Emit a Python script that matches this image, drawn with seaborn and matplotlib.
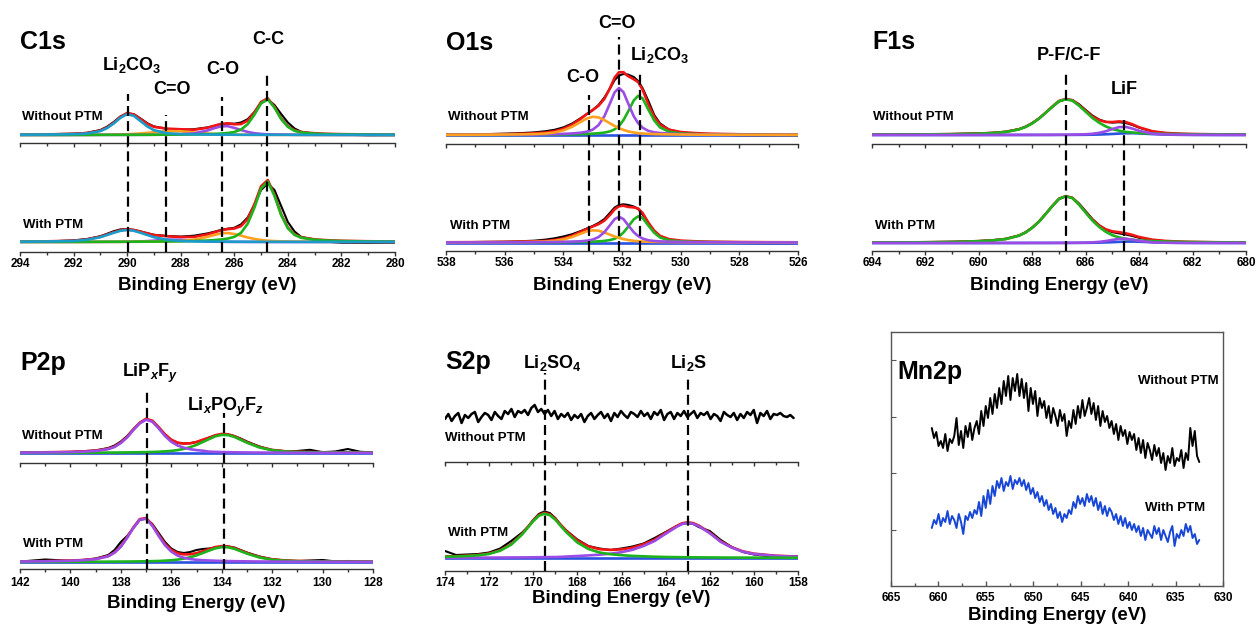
import numpy as np
import matplotlib
matplotlib.use("Agg")
import matplotlib.pyplot as plt
import seaborn as sns

sns.set_style("white")
plt.rcParams["font.family"] = ["Liberation Sans", "DejaVu Sans"]
plt.rcParams["font.weight"] = "bold"
plt.rcParams["mathtext.fontset"] = "custom"
plt.rcParams["mathtext.rm"] = "Liberation Sans:bold"
plt.rcParams["mathtext.it"] = "Liberation Sans:italic:bold"
plt.rcParams["mathtext.bf"] = "Liberation Sans:bold"
plt.rcParams["text.color"] = "black"
plt.rcParams["axes.labelcolor"] = "black"
plt.rcParams["xtick.color"] = "black"

# ---------------- C1s ----------------
c1s_energy = [294, 293, 292, 291.5, 291, 290.75, 290.5, 290.25, 290, 289.75, 289.5, 289.25, 289, 288.5, 288, 287.5,
              287, 286.75, 286.5, 286.25, 286, 285.75, 285.5, 285.25, 285, 284.75, 284.5, 284.25, 284, 283.75, 283.5,
              283, 282.5, 282, 281, 280]
c1s_wo_raw = [0.3, 0.8, 1.3, 2.2, 5.0, 8.3, 13.0, 18.6, 21.6, 20.8, 16.5, 11.8, 8.6, 6.0, 5.2, 5.8, 7.6, 9.0, 10.6,
              11.4, 11.3, 12.5, 15.8, 23.0, 32.0, 35.5, 30.0, 21.0, 12.5, 6.5, 3.2, 1.2, 0.6, 0.3, -0.3, -0.2]
c1s_wo_li2co3 = [0.2, 0.4, 0.8, 1.5, 3.9, 6.9, 11.5, 17.2, 20.9, 19.1, 13.9, 8.6, 4.8, 1.7, 0.9, 0.6, 0.4, 0.35, 0.3,
                 0.3, 0.25, 0.2, 0.2, 0.2, 0.2, 0.15, 0.15, 0.15, 0.15, 0.1, 0.1, 0.1, 0.1, 0.1, 0.1, 0.1]
c1s_wo_c_eq_o = [0.1, 0.1, 0.15, 0.2, 0.3, 0.3, 0.4, 0.6, 0.8, 1.1, 1.6, 2.1, 2.8, 3.9, 3.7, 2.5, 1.4, 1.0, 0.7, 0.5,
                 0.4, 0.3, 0.25, 0.2, 0.2, 0.15, 0.15, 0.15, 0.15, 0.1, 0.1, 0.1, 0.1, 0.1, 0.1, 0.1]
c1s_wo_c_o = [0.05, 0.05, 0.1, 0.1, 0.15, 0.15, 0.15, 0.15, 0.15, 0.15, 0.2, 0.2, 0.25, 0.4, 0.7, 1.6, 4.5, 6.8, 8.6,
              8.9, 7.1, 5.0, 3.1, 1.8, 1.1, 0.7, 0.5, 0.4, 0.35, 0.3, 0.25, 0.2, 0.15, 0.1, 0.1, 0.1]
c1s_wo_c_c = [0.05, 0.06, 0.08, 0.1, 0.12, 0.13, 0.14, 0.15, 0.17, 0.18, 0.2, 0.22, 0.25, 0.33, 0.43, 0.6, 0.9, 1.1,
              1.45, 2.0, 3.0, 5.4, 10.8, 20.2, 31.6, 35.7, 27.3, 15.9, 8.1, 4.2, 2.5, 1.3, 0.8, 0.55, 0.3, 0.19]
c1s_w_raw = [0.3, 0.5, 1.6, 3.0, 5.8, 8.2, 10.8, 12.6, 12.9, 12.0, 10.6, 8.8, 7.2, 6.0, 5.4, 6.3, 8.6, 10.2, 12.0, 13.3,
             14.2, 17.6, 24.5, 37.0, 52.0, 58.5, 52.0, 36.0, 20.0, 10.5, 5.0, 2.5, 0.2, -0.8, -1.0, -0.8]
c1s_w_li2co3 = [0.25, 0.45, 1.0, 2.2, 4.8, 7.0, 9.2, 11.2, 12.0, 11.2, 9.2, 7.0, 4.8, 2.2, 1.0, 0.6, 0.45, 0.4, 0.35,
                0.3, 0.25, 0.25, 0.2, 0.2, 0.2, 0.15, 0.15, 0.15, 0.15, 0.1, 0.1, 0.1, 0.1, 0.1, 0.1, 0.1]
c1s_w_c_o = [0.05, 0.06, 0.09, 0.1, 0.13, 0.15, 0.16, 0.18, 0.2, 0.23, 0.26, 0.31, 0.36, 0.54, 1.0, 2.3, 5.2, 7.0, 8.6,
             9.0, 8.0, 6.4, 4.5, 3.1, 2.0, 1.3, 0.9, 0.64, 0.5, 0.42, 0.35, 0.25, 0.19, 0.15, 0.1, 0.07]
c1s_w_c_eq_o = [0.04, 0.05, 0.08, 0.1, 0.15, 0.17, 0.2, 0.22, 0.24, 0.35, 0.56, 0.9, 1.35, 2.4, 2.2, 1.2, 0.47, 0.3,
                0.2, 0.15, 0.12, 0.1, 0.08, 0.05, 0.05, 0.05, 0.05, 0.05, 0.05, 0.05, 0.05, 0.05, 0.05, 0.05, 0.05, 0.05]
c1s_w_c_c = [0.08, 0.1, 0.14, 0.17, 0.2, 0.22, 0.24, 0.25, 0.29, 0.3, 0.34, 0.37, 0.42, 0.56, 0.73, 1.0, 1.5, 1.9, 2.5,
             3.4, 5.1, 9.1, 18.3, 34.2, 53.5, 60.5, 46.2, 26.9, 13.7, 7.1, 4.2, 2.2, 1.4, 0.93, 0.5, 0.32]
c1s_peaks = [289.95, 288.55, 286.45, 284.78]

# ---------------- O1s ----------------
o1s_energy = [538, 537, 536, 535.5, 535, 534.6, 534.3, 534, 533.7, 533.4, 533.2, 533, 532.8, 532.6, 532.4, 532.25,
              532.1, 531.95, 531.8, 531.6, 531.45, 531.3, 531.1, 530.9, 530.7, 530.4, 530, 529.5, 529, 528, 527, 526]
o1s_background = [0.0] * 32
o1s_wo_raw = [0.3, 0.6, 1.3, 1.8, 2.6, 3.8, 5.2, 7.6, 11.5, 17.0, 21.0, 25.0, 30.0, 37.5, 47.0, 55.0, 59.5, 61.0, 60.5,
              58.0, 54.0, 47.0, 34.0, 20.0, 11.5, 5.5, 2.5, 1.4, 0.6, -0.5, -0.8, -0.6]
o1s_wo_c_o = [0.17, 0.25, 0.44, 0.62, 0.93, 1.5, 2.5, 4.6, 8.2, 13.2, 16.5, 18.2, 17.6, 14.9, 11.5, 9.0, 6.8, 5.1, 3.7,
              2.5, 1.9, 1.5, 1.15, 0.93, 0.78, 0.62, 0.47, 0.35, 0.27, 0.17, 0.12, 0.09]
o1s_wo_c_eq_o = [0.12, 0.18, 0.27, 0.36, 0.49, 0.66, 0.85, 1.12, 1.55, 2.3, 3.3, 5.3, 9.9, 18.8, 32.3, 42.8, 47.0, 42.8,
                 32.3, 18.8, 11.8, 7.3, 4.1, 2.7, 2.0, 1.4, 0.92, 0.62, 0.43, 0.25, 0.16, 0.11]
o1s_wo_li2co3 = [0.08, 0.11, 0.17, 0.21, 0.28, 0.35, 0.43, 0.53, 0.68, 0.87, 1.08, 1.34, 1.74, 2.4, 3.7, 5.7, 9.0, 14.9,
                 23.0, 34.5, 39.2, 36.7, 25.3, 14.5, 7.5, 3.3, 1.6, 0.92, 0.58, 0.3, 0.18, 0.12]
o1s_w_raw = [0.2, 0.5, 0.8, 1.2, 1.8, 2.9, 4.2, 6.0, 8.3, 11.5, 14.0, 16.5, 19.5, 23.5, 30.0, 35.0, 37.5, 38.2, 37.6,
             36.0, 33.5, 28.0, 19.0, 11.0, 6.0, 3.0, 1.5, 0.6, 0.2, -0.6, -0.9, -0.7]
o1s_w_c_o = [0.11, 0.17, 0.3, 0.42, 0.62, 1.0, 1.7, 3.1, 5.5, 8.9, 11.1, 12.2, 11.8, 10.0, 7.7, 6.0, 4.6, 3.4, 2.5, 1.7,
             1.3, 1.0, 0.77, 0.62, 0.52, 0.42, 0.32, 0.24, 0.18, 0.11, 0.08, 0.06]
o1s_w_c_eq_o = [0.07, 0.1, 0.15, 0.2, 0.27, 0.36, 0.46, 0.61, 0.85, 1.26, 1.8, 2.9, 5.4, 10.3, 17.7, 23.4, 25.7, 23.4,
                17.7, 10.3, 6.5, 4.0, 2.2, 1.5, 1.1, 0.77, 0.5, 0.34, 0.24, 0.14, 0.09, 0.06]
o1s_w_li2co3 = [0.05, 0.07, 0.11, 0.14, 0.19, 0.23, 0.29, 0.35, 0.45, 0.58, 0.72, 0.9, 1.16, 1.6, 2.5, 3.8, 6.0, 10.0,
                15.4, 23.1, 26.2, 24.6, 16.9, 9.7, 5.0, 2.2, 1.07, 0.62, 0.39, 0.2, 0.12, 0.08]
o1s_peaks = [533.12, 532.1, 531.4]

# ---------------- F1s ----------------
f1s_energy = [694, 693, 692, 691, 690.5, 690, 689.5, 689, 688.5, 688.25, 688, 687.75, 687.5, 687.25, 687, 686.75,
              686.5, 686.25, 686, 685.75, 685.5, 685.25, 685, 684.75, 684.5, 684.25, 684, 683.5, 683, 682.5, 682, 681,
              680]
f1s_wo_raw = [0.2, 0.5, 0.4, 1.0, 1.3, 1.7, 2.2, 3.3, 5.9, 8.4, 12.0, 16.6, 22.2, 28.0, 33.5, 35.6, 34.9, 30.8, 25.0,
              19.5, 15.5, 13.2, 12.4, 12.8, 12.0, 10.0, 7.3, 3.5, 1.8, 1.1, 0.8, 0.4, 0.3]
f1s_wo_pf_cf = [0.3, 0.4, 0.56, 0.84, 1.07, 1.4, 1.93, 3.0, 5.6, 8.0, 11.6, 16.3, 22.1, 28.2, 33.7, 35.7, 34.3, 29.3,
                23.2, 17.1, 12.3, 8.6, 5.9, 4.3, 3.1, 2.5, 1.96, 1.43, 1.1, 0.86, 0.7, 0.48, 0.35]
f1s_wo_lif = [0.02, 0.025, 0.03, 0.04, 0.045, 0.05, 0.06, 0.08, 0.1, 0.11, 0.13, 0.15, 0.17, 0.2, 0.24, 0.28, 0.38, 0.5,
              0.75, 1.2, 2.16, 3.7, 6.0, 7.9, 8.1, 6.4, 4.15, 1.35, 0.54, 0.32, 0.21, 0.12, 0.07]
f1s_wo_minor = [0.03, 0.03, 0.03, 0.03, 0.03, 0.03, 0.03, 0.05, 0.05, 0.05, 0.07, 0.07, 0.07, 0.07, 0.1, 0.1, 0.12,
                0.16, 0.21, 0.31, 0.47, 0.72, 1.04, 1.4, 1.72, 1.8, 1.6, 0.9, 0.4, 0.18, 0.1, 0.05, 0.03]
f1s_w_raw = [0.3, 0.5, 0.9, 1.1, 1.5, 2.0, 2.8, 4.2, 7.5, 10.8, 15.5, 21.5, 29.0, 36.8, 44.0, 46.6, 45.3, 39.5, 31.8,
             24.0, 17.8, 13.3, 10.8, 9.6, 8.5, 7.0, 5.2, 2.9, 1.7, 1.1, 0.8, 0.5, 0.3]
f1s_w_pf_cf = [0.39, 0.52, 0.73, 1.1, 1.4, 1.83, 2.52, 3.9, 7.3, 10.5, 15.2, 21.3, 28.9, 36.9, 44.1, 46.7, 44.9, 38.3,
               30.3, 22.4, 16.1, 11.2, 7.7, 5.6, 4.1, 3.3, 2.56, 1.87, 1.44, 1.12, 0.92, 0.63, 0.46]
f1s_w_lif = [0.01, 0.013, 0.016, 0.02, 0.023, 0.026, 0.03, 0.04, 0.05, 0.06, 0.07, 0.08, 0.09, 0.1, 0.12, 0.15, 0.2,
             0.26, 0.39, 0.62, 1.12, 1.92, 3.1, 4.1, 4.2, 3.3, 2.15, 0.7, 0.28, 0.17, 0.11, 0.06, 0.04]
f1s_w_minor = [0.02, 0.02, 0.02, 0.02, 0.02, 0.02, 0.02, 0.04, 0.04, 0.04, 0.06, 0.06, 0.06, 0.06, 0.08, 0.08, 0.1,
               0.13, 0.17, 0.25, 0.38, 0.58, 0.83, 1.12, 1.38, 1.44, 1.28, 0.72, 0.32, 0.14, 0.08, 0.04, 0.02]
f1s_peaks = [686.73, 684.56]

# ---------------- P2p ----------------
p2p_energy = [142, 141, 140, 139.5, 139, 138.5, 138.25, 138, 137.75, 137.5, 137.25, 137, 136.75, 136.5, 136.25, 136,
              135.75, 135.5, 135.25, 135, 134.75, 134.5, 134.25, 134, 133.75, 133.5, 133.25, 133, 132.5, 132, 131.5,
              131, 130.5, 130, 129.5, 129, 128.5, 128]
p2p_background = [0.0] * 38
p2p_wo_raw = [0.3, 0.8, 1.0, 1.8, 2.6, 5.0, 7.5, 11.5, 17.0, 24.0, 30.0, 33.5, 31.5, 25.5, 18.5, 13.0, 10.0, 9.5, 9.8,
              11.0, 13.0, 15.5, 17.5, 18.5, 18.5, 17.0, 14.5, 11.5, 6.5, 3.0, 1.8, 2.0, 3.2, 0.8, 1.5, 4.0, 1.2, 0.6]
p2p_wo_lipf = [0.34, 0.53, 0.91, 1.29, 2.0, 3.9, 6.0, 10.0, 15.6, 23.0, 29.6, 33.3, 31.3, 24.6, 17.0, 11.2, 7.5, 5.3,
               3.8, 2.9, 2.3, 1.35, 1.13, 0.95, 0.82, 0.71, 0.62, 0.55, 0.44, 0.35, 0.29, 0.25, 0.21, 0.18, 0.16, 0.14,
               0.12, 0.11]
p2p_wo_lipof = [0.14, 0.18, 0.24, 0.28, 0.34, 0.42, 0.47, 0.52, 0.59, 0.66, 0.75, 0.88, 1.04, 1.26, 1.65, 2.1, 2.9, 4.1,
                5.9, 8.1, 11.0, 13.9, 16.7, 18.1, 17.9, 16.1, 13.2, 10.3, 5.5, 2.75, 1.5, 1.0, 0.73, 0.57, 0.45, 0.37,
                0.3, 0.26]
p2p_w_raw = [0.4, 2.5, 1.2, 2.0, 3.5, 7.0, 12.0, 20.0, 26.0, 34.0, 42.0, 43.5, 38.0, 29.0, 20.0, 13.5, 10.0, 9.0, 10.0,
             12.0, 13.0, 13.5, 14.5, 15.5, 15.5, 14.5, 12.0, 9.5, 5.5, 2.8, 1.6, 0.8, 1.5, 2.0, 0.6, 1.0, 0.4, 0.3]
p2p_w_lipf = [0.44, 0.68, 1.21, 1.76, 2.8, 5.7, 9.3, 15.3, 24.2, 34.2, 42.3, 43.2, 36.1, 26.0, 16.8, 10.4, 6.4, 4.2,
              2.95, 2.2, 1.8, 1.5, 1.25, 1.06, 0.92, 0.8, 0.71, 0.63, 0.5, 0.41, 0.34, 0.29, 0.25, 0.21, 0.19, 0.17,
              0.15, 0.13]
p2p_w_lipof = [0.11, 0.15, 0.2, 0.23, 0.28, 0.34, 0.39, 0.43, 0.48, 0.54, 0.62, 0.72, 0.85, 1.03, 1.35, 1.72, 2.4, 3.4,
               4.8, 6.6, 9.0, 11.4, 13.7, 14.8, 14.7, 13.2, 10.8, 8.4, 4.5, 2.25, 1.23, 0.82, 0.6, 0.47, 0.37, 0.3,
               0.25, 0.21]
p2p_peaks = [136.97, 133.9]

# ---------------- S2p ----------------
s2p_energy = [174, 173.5, 173, 172.5, 172, 171.5, 171, 170.5, 170.25, 170, 169.75, 169.5, 169.25, 169, 168.75, 168.5,
              168, 167.5, 167, 166.5, 166, 165.5, 165, 164.5, 164, 163.5, 163.25, 163, 162.75, 162.5, 162, 161.5, 161,
              160.5, 160, 159, 158]
s2p_background = [0.0] * 37
s2p_w_raw = [7.0, 3.0, 3.5, 4.0, 5.5, 9.5, 17.0, 25.5, 31.0, 38.0, 44.0, 46.5, 45.0, 40.0, 33.0, 27.5, 18.5, 12.0, 9.5,
             8.0, 9.5, 11.5, 14.5, 20.0, 26.0, 32.0, 34.0, 35.0, 34.0, 31.0, 27.0, 18.0, 11.0, 6.0, 3.5, 1.0, 1.5]
s2p_w_li2so4 = [1.23, 1.53, 2.0, 2.7, 4.1, 7.3, 13.3, 23.7, 30.3, 36.8, 42.1, 44.3, 42.8, 38.3, 31.9, 25.7, 15.5, 9.0,
                5.5, 3.8, 2.8, 2.1, 1.7, 1.3, 1.0, 0.85, 0.78, 0.72, 0.67, 0.62, 0.55, 0.48, 0.42, 0.37, 0.33, 0.26,
                0.21]
s2p_w_li2s = [0.28, 0.31, 0.34, 0.37, 0.41, 0.46, 0.52, 0.58, 0.63, 0.7, 0.78, 0.85, 0.9, 0.95, 1.15, 1.45, 2.0, 2.6,
              3.3, 4.3, 5.8, 8.2, 12.0, 17.0, 24.2, 31.2, 34.0, 35.0, 34.2, 31.9, 24.8, 16.1, 10.3, 6.3, 4.0, 2.0, 1.27]
s2p_wo_range = (174.0, 158.2)
s2p_wo_raw = [-2, 3, -4, 1, 4, -6, 2, -1, 3,
              5, -5, 0, 4, 2, -3, 5, 1, -2, 6,
              3, 8, 0, 6, 4, 7, 2, 9, 12, 5, 8, 3,
              7, 1, 6, -2, 3, 0, 4, -3, 2, -1, 3, -5, 1,
              4, -2, 2, 5, -1, 3, -4, 4, 0, 6, 2, -1, 5, 3, 0,
              6, 1, 4, -2, 5, 2, 7, -3, 3, 5, -2, 4, 1, 6, 0,
              3, 6, -1, 4, 2, 5, -2, 3, 1, -4, 5, 2, 0, 4, -3,
              3, -1, 5, 2, 7, -6, 4, 1, 6, -2, 3, 2, 4, 1, 0, 2, -1]
s2p_peaks = [169.45, 162.98]

# ---------------- Mn2p ----------------
mn2p_range = (660.7, 632.5)
mn2p_without = [158, 148, 154, 140, 145, 138, 152, 135, 147, 143,
                150, 168, 141, 155, 138, 160, 149, 163, 146, 158,
                165, 152, 175, 160, 180, 168, 188, 172, 192, 178,
                198, 182, 205, 190, 210, 186, 208, 195, 212, 190,
                207, 188, 203, 175, 198, 182, 195, 170, 188, 178,
                185, 168, 180, 163, 178, 170, 160, 176, 165, 172,
                150, 165, 158, 176, 162, 180, 168, 186, 170, 178,
                188, 172, 183, 166, 180, 160, 175, 164, 170, 158,
                165, 152, 162, 146, 160, 150, 156, 142, 154, 146,
                152, 136, 148, 133, 146, 128, 143, 136, 126, 141,
                130, 138, 123, 133, 116, 130, 123, 138, 120, 128,
                125, 136, 118, 133, 126, 158, 140, 155, 130, 124]
mn2p_with = [58, 66, 62, 72, 60, 68, 64, 75, 62, 70,
             66, 58, 72, 64, 52, 70, 66, 74, 68, 76,
             72, 84, 70, 90, 78, 96, 82, 100, 90, 105,
             98, 108, 95, 104, 100, 110, 97, 106, 102, 108,
             100, 106, 96, 103, 92, 98, 88, 94, 84, 90,
             80, 86, 76, 82, 72, 78, 68, 74, 64, 72,
             68, 76, 72, 84, 78, 90, 82, 88, 80, 92,
             84, 90, 80, 88, 76, 84, 72, 80, 70, 78,
             74, 66, 72, 62, 70, 60, 68, 58, 64, 56,
             62, 54, 60, 50, 58, 46, 56, 52, 48, 60,
             52, 58, 46, 56, 50, 44, 54, 60, 40, 52,
             48, 56, 50, 62, 54, 60, 48, 52, 42, 46]

# ---------------- styling ----------------
RED = "#F01414"
GREEN = "#1DB31D"
PURPLE = "#9A4CE4"
ORANGE = "#FFA020"
CYAN = "#1A9BC9"
BLUE = "#2A52E0"
MN_BLUE = "#1846D6"
AXIS_GREY = "#333333"

W, H = 1257, 625
fig = plt.figure(figsize=(W / 100, H / 100), dpi=100)


def add_px_axes(x0, x1, y_top, y_bot):
    return fig.add_axes([x0 / W, 1 - y_bot / H, (x1 - x0) / W, (y_bot - y_top) / H])


def trace(ax, x, y, color, lw=1.9, z=3):
    sns.lineplot(x=np.asarray(x, dtype=float), y=np.asarray(y, dtype=float), ax=ax, color=color,
                 linewidth=lw, sort=False, estimator=None, legend=False, zorder=z)


def spectrum(ax, energy, offset, raw, comps):
    fit = np.sum([np.asarray(v, dtype=float) for v, _ in comps], axis=0)
    trace(ax, energy, np.asarray(raw, dtype=float) + offset, "black", lw=1.5, z=2)
    trace(ax, energy, fit + offset, RED, lw=1.9, z=3)
    for i, (vals, col) in enumerate(comps):
        trace(ax, energy, np.asarray(vals, dtype=float) + offset, col, lw=1.9, z=4 + i)


def split_panel(ax, xlim, y_axis, y_top, y_mid, tick_pad, label_top):
    h = y_axis - y_top
    ax.set_xlim(*xlim)
    ax.set_ylim(0, h)
    ax.set_yticks([])
    ax.set_ylabel("")
    for side in ("top", "left", "right"):
        ax.spines[side].set_visible(False)
    ax.spines["bottom"].set_color(AXIS_GREY)
    ax.spines["bottom"].set_linewidth(1.0)
    lo, hi = min(xlim), max(xlim)
    major = np.arange(lo, hi + 0.01, 2)
    minor = np.arange(lo, hi + 0.01, 1)
    ax.set_xticks(major)
    ax.set_xticks(minor, minor=True)
    ax.set_xticklabels([f"{v:g}" for v in major])
    ax.tick_params(axis="x", which="both", bottom=True, direction="out", color=AXIS_GREY, width=1.0)
    ax.tick_params(axis="x", which="major", length=3, pad=tick_pad, labelsize=8.5)
    ax.tick_params(axis="x", which="minor", length=1.8)
    mid = ax.secondary_xaxis((y_axis - y_mid) / h)
    mid.set_ticks(major)
    mid.set_ticks(minor, minor=True)
    mid.tick_params(axis="x", which="both", bottom=True, top=False, labelbottom=False, labeltop=False,
                    direction="out", color=AXIS_GREY, width=1.0)
    mid.tick_params(axis="x", which="major", length=3)
    mid.tick_params(axis="x", which="minor", length=1.8)
    for sp in mid.spines.values():
        sp.set_color(AXIS_GREY)
        sp.set_linewidth(1.0)
    ax.set_xlabel("Binding Energy (eV)", fontsize=13.5, fontweight="bold")
    ax.xaxis.set_label_coords(0.5, (y_axis - label_top) / h)


def dashes(ax, xs, tops):
    for xp, top in zip(xs, tops):
        ax.plot([xp, xp], [0, top], color="black", lw=1.6, ls=(0, (4.5, 2.3)), zorder=20)


def note(ax, x, y, s, size=13, ha="center"):
    ax.text(x, y, s, fontsize=size, fontweight="bold", ha=ha, va="center", zorder=30)


# ---- C1s ----
ax = add_px_axes(20, 395, 10, 252)
spectrum(ax, c1s_energy, 117, c1s_wo_raw,
         [(c1s_wo_c_eq_o, ORANGE), (c1s_wo_c_o, PURPLE), (c1s_wo_c_c, GREEN), (c1s_wo_li2co3, CYAN)])
spectrum(ax, c1s_energy, 10, c1s_w_raw,
         [(c1s_w_c_eq_o, PURPLE), (c1s_w_c_o, ORANGE), (c1s_w_c_c, GREEN), (c1s_w_li2co3, CYAN)])
split_panel(ax, (294, 280), 252, 10, 143, 1.0, 277)
dashes(ax, c1s_peaks, [158, 137, 155, 178])
note(ax, 289.82, 187, "Li$_2$CO$_3$")
note(ax, 288.33, 163, "C=O")
note(ax, 286.42, 182, "C-O")
note(ax, 284.74, 212, "C-C")
note(ax, 294, 210, "C1s", size=18, ha="left")
note(ax, 293.93, 135, "Without PTM", size=9.5, ha="left")
note(ax, 293.9, 27, "With PTM", size=9.5, ha="left")

# ---- O1s ----
ax = add_px_axes(446, 798, 10, 251)
spectrum(ax, o1s_energy, 116, o1s_wo_raw,
         [(o1s_background, BLUE), (o1s_wo_li2co3, GREEN), (o1s_wo_c_eq_o, PURPLE), (o1s_wo_c_o, ORANGE)])
spectrum(ax, o1s_energy, 8.5, o1s_w_raw,
         [(o1s_background, BLUE), (o1s_w_li2co3, GREEN), (o1s_w_c_o, ORANGE), (o1s_w_c_eq_o, PURPLE)])
split_panel(ax, (538, 526), 251, 10, 144, 1.0, 277)
dashes(ax, o1s_peaks, [156, 214, 179])
note(ax, 532.17, 227, "C=O")
note(ax, 530.7, 196, "Li$_2$CO$_3$")
note(ax, 533.33, 174, "C-O")
note(ax, 538, 208, "O1s", size=18, ha="left")
note(ax, 537.93, 134, "Without PTM", size=9.5, ha="left")
note(ax, 537.86, 25, "With PTM", size=9.5, ha="left")

# ---- F1s ----
ax = add_px_axes(872, 1246, 10, 251)
spectrum(ax, f1s_energy, 116, f1s_wo_raw,
         [(f1s_wo_minor, BLUE), (f1s_wo_pf_cf, GREEN), (f1s_wo_lif, PURPLE)])
spectrum(ax, f1s_energy, 8, f1s_w_raw,
         [(f1s_w_minor, BLUE), (f1s_w_pf_cf, GREEN), (f1s_w_lif, PURPLE)])
split_panel(ax, (694, 680), 251, 10, 144, 1.0, 277)
dashes(ax, f1s_peaks, [178, 136])
note(ax, 686.62, 196, "P-F/C-F")
note(ax, 684.57, 162, "LiF")
note(ax, 694, 209, "F1s", size=18, ha="left")
note(ax, 693.96, 134, "Without PTM", size=9.5, ha="left")
note(ax, 693.89, 25, "With PTM", size=9.5, ha="left")

# ---- P2p ----
ax = add_px_axes(20, 373, 325, 569)
spectrum(ax, p2p_energy, 116, p2p_wo_raw,
         [(p2p_background, BLUE), (p2p_wo_lipof, GREEN), (p2p_wo_lipf, PURPLE)])
spectrum(ax, p2p_energy, 7, p2p_w_raw,
         [(p2p_background, BLUE), (p2p_w_lipof, GREEN), (p2p_w_lipf, PURPLE)])
split_panel(ax, (142, 128), 569, 325, 463, 3.0, 595)
dashes(ax, p2p_peaks, [177, 156])
note(ax, 136.84, 196, "LiP$_x$F$_y$")
note(ax, 133.87, 162, "Li$_x$PO$_y$F$_z$")
note(ax, 142, 206, "P2p", size=18, ha="left")
note(ax, 141.92, 133, "Without PTM", size=9.5, ha="left")
note(ax, 141.88, 25, "With PTM", size=9.5, ha="left")

# ---- S2p ----
ax = add_px_axes(445, 798, 325, 571)
s2p_wo_energy = np.linspace(s2p_wo_range[0], s2p_wo_range[1], len(s2p_wo_raw))
trace(ax, s2p_wo_energy, np.asarray(s2p_wo_raw, dtype=float) + 154, "black", lw=1.8, z=2)
spectrum(ax, s2p_energy, 13, s2p_w_raw,
         [(s2p_background, BLUE), (s2p_w_li2s, PURPLE), (s2p_w_li2so4, GREEN)])
split_panel(ax, (174, 158), 571, 325, 462, 1.5, 590)
dashes(ax, s2p_peaks, [198, 196])
note(ax, 169.15, 208, "Li$_2$SO$_4$")
note(ax, 162.98, 208, "Li$_2$S")
note(ax, 174, 209, "S2p", size=18, ha="left")
note(ax, 174, 133, "Without PTM", size=9.5, ha="left")
note(ax, 173.86, 38, "With PTM", size=9.5, ha="left")

# ---- Mn2p ----
ax = add_px_axes(891, 1223, 332, 586)
mn2p_energy = np.linspace(mn2p_range[0], mn2p_range[1], len(mn2p_without))
trace(ax, mn2p_energy, mn2p_without, "black", lw=1.4, z=3)
trace(ax, mn2p_energy, mn2p_with, MN_BLUE, lw=1.4, z=3)
ax.set_xlim(665, 630)
ax.set_ylim(0, 254)
for sp in ax.spines.values():
    sp.set_visible(True)
    sp.set_color("#555555")
    sp.set_linewidth(1.0)
mn_major = np.arange(630, 666, 5)
ax.set_xticks(mn_major)
ax.set_xticks(np.arange(630, 666, 2.5), minor=True)
ax.set_xticklabels([f"{v:g}" for v in mn_major])
ax.set_yticks([56.5, 113, 169.5, 226])
ax.tick_params(axis="x", which="both", bottom=True, top=False, direction="in", color="#555555", width=1.0)
ax.tick_params(axis="x", which="major", length=3.5, pad=4.5, labelsize=8.5)
ax.tick_params(axis="x", which="minor", length=2)
ax.tick_params(axis="y", which="major", left=True, right=False, direction="in", length=3.5,
               color="#555555", labelleft=False)
ax.set_ylabel("")
ax.set_xlabel("Binding Energy (eV)", fontsize=13.5, fontweight="bold")
ax.xaxis.set_label_coords(0.5, (586 - 607) / 254)
note(ax, 664.3, 214, "Mn2p", size=18, ha="left")
note(ax, 630.5, 205, "Without PTM", size=9.5, ha="right")
note(ax, 631.9, 78, "With PTM", size=9.5, ha="right")

fig.savefig("out.png", dpi=100, facecolor="white")
